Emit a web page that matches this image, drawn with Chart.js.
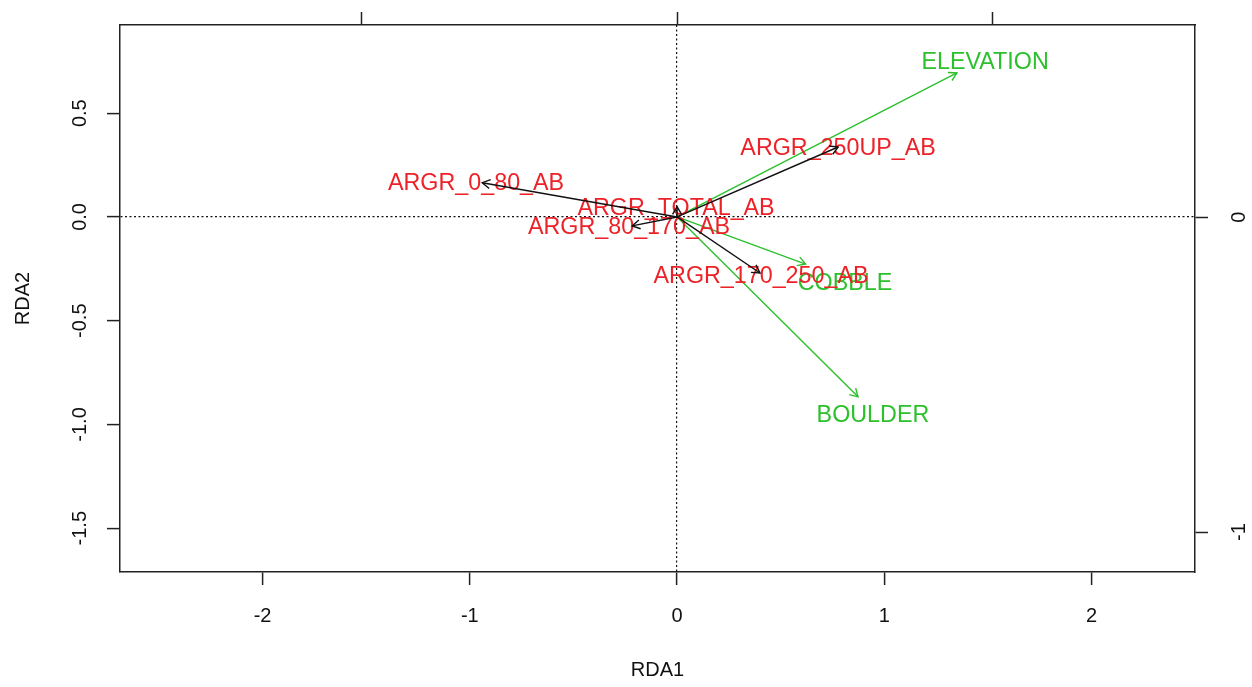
<!DOCTYPE html>
<html>
<head>
<meta charset="utf-8">
<script src="https://cdn.jsdelivr.net/npm/chart.js@4.4.1/dist/chart.umd.min.js"></script>
<style>
  html, body { margin: 0; padding: 0; background: #fff; }
</style>
</head>
<body>
<canvas id="rda" width="1252" height="687"></canvas>
<script>
// environmental biplot arrows (RDA1, RDA2)
const envNames = ["ELEVATION", "COBBLE", "BOULDER"]
const envX = [1.35, 0.62, 0.873]
const envY = [0.694, -0.227, -0.867]
const envLabelX = [1.486, 0.81, 0.945]
const envLabelY = [0.752, -0.313, -0.949]

// species arrows
const sppNames = ["ARGR_0_80_AB", "ARGR_80_170_AB", "ARGR_170_250_AB", "ARGR_250UP_AB", "ARGR_TOTAL_AB"]
const sppX = [-0.94, -0.217, 0.40, 0.777, 0.0]
const sppY = [0.165, -0.043, -0.27, 0.337, 0.05]
const sppLabelX = [-0.97, -0.232, 0.405, 0.777, -0.005]
const sppLabelY = [0.169, -0.043, -0.28, 0.337, 0.048]

// axes
const xTicks = [-2, -1, 0, 1, 2]
const xTickLabels = ["-2", "-1", "0", "1", "2"]
const yTicks = [0.5, 0, -0.5, -1, -1.5]
const yTickLabels = ["0.5", "0.0", "-0.5", "-1.0", "-1.5"]
const x2Ticks = [-1, 0, 1]
const y2Ticks = [0, -1]
const y2TickLabels = ["0", "-1"]

const xMin = -2.688, xMax = 2.499
const yMin = -1.711, yMax = 0.925
const x2Min = -1.768, x2Max = 1.644
const y2Min = -1.127, y2Max = 0.610

const RED = "rgb(236, 34, 40)"
const GREEN = "rgb(44, 192, 44)"
const INK = "#222"
const FAMILY = "'Liberation Sans', Arial, sans-serif"
const axisFont = { family: FAMILY, size: 20 }

var datasets = []

for (let i = 0; i < envNames.length; i++) {
  datasets.push({
    label: envNames[i],
    data: [{ x: 0, y: 0 }, { x: envX[i], y: envY[i] }],
    showLine: true,
    borderColor: GREEN,
    borderWidth: 1.4,
    pointRadius: 0,
    arrowHead: true,
    order: 4
  })
}
datasets.push({
  label: "env labels",
  data: envNames.map((n, i) => ({ x: envLabelX[i], y: envLabelY[i] })),
  texts: envNames,
  textColor: GREEN,
  pointRadius: 0,
  order: 3
})
datasets.push({
  label: "species labels",
  data: sppNames.map((n, i) => ({ x: sppLabelX[i], y: sppLabelY[i] })),
  texts: sppNames,
  textColor: RED,
  pointRadius: 0,
  order: 2
})
for (let i = 0; i < sppNames.length; i++) {
  datasets.push({
    label: sppNames[i],
    data: [{ x: 0, y: 0 }, { x: sppX[i], y: sppY[i] }],
    showLine: true,
    borderColor: "#111",
    borderWidth: 1.4,
    pointRadius: 0,
    arrowHead: true,
    order: 1
  })
}

// arrow heads and text labels, drawn right after their dataset
const biplotMarks = {
  id: "biplotMarks",
  afterDatasetDraw(chart, args) {
    const ds = chart.data.datasets[args.index]
    const pts = args.meta.data
    const ctx = chart.ctx
    ctx.save()
    if (ds.arrowHead) {
      const a = pts[0], b = pts[1]
      const ang = Math.atan2(b.y - a.y, b.x - a.x)
      const len = 9
      ctx.strokeStyle = ds.borderColor
      ctx.lineWidth = ds.borderWidth
      ctx.beginPath()
      ctx.moveTo(b.x - len * Math.cos(ang - Math.PI / 6), b.y - len * Math.sin(ang - Math.PI / 6))
      ctx.lineTo(b.x, b.y)
      ctx.lineTo(b.x - len * Math.cos(ang + Math.PI / 6), b.y - len * Math.sin(ang + Math.PI / 6))
      ctx.stroke()
    }
    if (ds.texts) {
      ctx.font = "23.3px " + FAMILY
      ctx.fillStyle = ds.textColor
      ctx.textAlign = "center"
      ctx.textBaseline = "middle"
      // +2: centre on the capitals rather than the em box
      pts.forEach((p, j) => ctx.fillText(ds.texts[j], p.x, p.y + 2))
    }
    ctx.restore()
  }
}

const zeroGrid = c => (c.tick && c.tick.value === 0 ? "#111" : "rgba(0,0,0,0)")

// fixed box sizes so the plot region matches the original
function fixBox(w, h) {
  return s => {
    if (w !== null) s.width = w
    if (h !== null) s.height = h
    s.paddingTop = 0
    s.paddingBottom = 0
    s.paddingLeft = 0
    s.paddingRight = 0
  }
}

const config = {
  type: "scatter",
  data: { datasets: datasets },
  options: {
    responsive: false,
    animation: false,
    events: [],
    layout: { padding: 0 },
    plugins: {
      legend: { display: false },
      tooltip: { enabled: false }
    },
    scales: {
      x: {
        type: "linear",
        position: "bottom",
        min: xMin,
        max: xMax,
        afterBuildTicks: s => { s.ticks = xTicks.map(v => ({ value: v })) },
        afterFit: fixBox(null, 115),
        ticks: {
          callback: (v, i) => xTickLabels[i],
          font: axisFont,
          color: "#111",
          padding: 19,
          maxRotation: 0,
          autoSkip: false
        },
        grid: {
          drawOnChartArea: true,
          color: zeroGrid,
          lineWidth: 1.2,
          tickColor: INK,
          tickWidth: 1.5,
          tickLength: 13
        },
        border: { color: INK, width: 1.5, dash: [2, 2.5] },
        title: { display: true, text: "RDA1", font: axisFont, color: "#111", padding: { top: 4, bottom: 5 } }
      },
      y: {
        type: "linear",
        position: "left",
        min: yMin,
        max: yMax,
        afterBuildTicks: s => { s.ticks = yTicks.map(v => ({ value: v })) },
        afterFit: fixBox(120, null),
        ticks: {
          callback: (v, i) => yTickLabels[i],
          font: axisFont,
          color: "#111",
          padding: 9,
          minRotation: 90,
          maxRotation: 90,
          crossAlign: "center",
          autoSkip: false
        },
        grid: {
          drawOnChartArea: true,
          color: zeroGrid,
          lineWidth: 1.2,
          tickColor: INK,
          tickWidth: 1.5,
          tickLength: 13
        },
        border: { color: INK, width: 1.5, dash: [2, 2.5] },
        title: { display: true, text: "RDA2", font: axisFont, color: "#111", padding: { top: 11, bottom: 0 } }
      },
      x2: {
        type: "linear",
        position: "top",
        min: x2Min,
        max: x2Max,
        afterBuildTicks: s => { s.ticks = x2Ticks.map(v => ({ value: v })) },
        afterFit: fixBox(null, 25),
        ticks: { display: false },
        grid: { drawOnChartArea: false, tickColor: INK, tickWidth: 1.5, tickLength: 13 },
        border: { color: INK, width: 1.5 }
      },
      y2: {
        type: "linear",
        position: "right",
        min: y2Min,
        max: y2Max,
        afterBuildTicks: s => { s.ticks = y2Ticks.map(v => ({ value: v })) },
        afterFit: fixBox(57, null),
        ticks: {
          callback: (v, i) => y2TickLabels[i],
          font: axisFont,
          color: "#111",
          padding: 23,
          minRotation: 90,
          maxRotation: 90,
          crossAlign: "center",
          autoSkip: false
        },
        grid: { drawOnChartArea: false, tickColor: INK, tickWidth: 1.5, tickLength: 13 },
        border: { color: INK, width: 1.5 }
      }
    }
  },
  plugins: [biplotMarks]
}

const chart = new Chart(document.getElementById("rda"), config)
</script>
</body>
</html>
